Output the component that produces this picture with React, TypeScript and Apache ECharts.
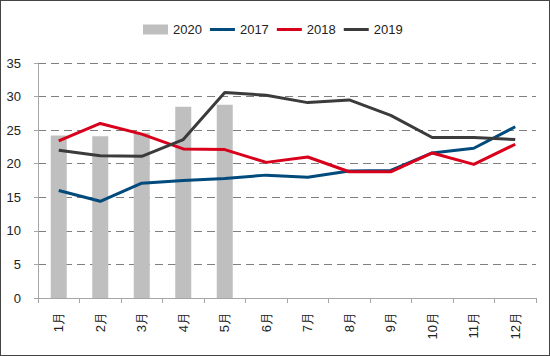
import React, { useEffect, useRef } from "react";
import * as echarts from "echarts";

const categories = ["1月", "2月", "3月", "4月", "5月", "6月", "7月", "8月", "9月", "10月", "11月", "12月"];
const s2020 = [24.2, 24.1, 24.6, 28.5, 28.8, null, null, null, null, null, null, null];
const s2017 = [16.0, 14.4, 17.1, 17.5, 17.8, 18.3, 18.0, 18.9, 19.0, 21.6, 22.3, 25.5];
const s2018 = [23.4, 26.0, 24.4, 22.2, 22.1, 20.2, 21.0, 18.8, 18.8, 21.6, 19.9, 22.9];
const s2019 = [22.0, 21.2, 21.1, 23.6, 30.6, 30.2, 29.1, 29.5, 27.2, 23.9, 23.9, 23.6];

const lineIcon = "path://M0,0 L25,0 L25,3 L0,3 Z";

export default function App() {
  const ref = useRef<HTMLDivElement>(null);
  useEffect(() => {
    if (!ref.current) return;
    const chart = echarts.init(ref.current, null, { renderer: "svg" });
    const font = "'Liberation Sans Narrow', 'Liberation Sans', Arial, sans-serif";
    chart.setOption({
      animation: false,
      backgroundColor: "#ffffff",
      textStyle: { fontFamily: font },
      legend: {
        top: 17,
        left: 137,
        itemWidth: 25,
        itemHeight: 10,
        itemGap: 8,
        symbolKeepAspect: true,
        textStyle: { fontSize: 13, color: "#222", fontFamily: font },
        data: [
          { name: "2020", icon: "rect", itemStyle: { color: "#bfbfbf" } },
          { name: "2017", icon: lineIcon },
          { name: "2018", icon: lineIcon },
          { name: "2019", icon: lineIcon },
        ],
      },
      grid: { left: 37, right: 13, top: 62, bottom: 57, containLabel: false },
      xAxis: {
        type: "category",
        data: categories,
        boundaryGap: true,
        axisLine: { lineStyle: { color: "#a6a6a6", width: 1 } },
        axisTick: { show: true, length: 5, lineStyle: { color: "#a6a6a6" } },
        axisLabel: { rotate: 90, fontSize: 13, color: "#222", margin: 14, fontFamily: font },
      },
      yAxis: {
        type: "value",
        min: 0,
        max: 35,
        interval: 5,
        axisLine: { show: true, lineStyle: { color: "#a6a6a6", width: 1 } },
        axisTick: { show: true, length: 4, lineStyle: { color: "#a6a6a6" } },
        axisLabel: { fontSize: 13, color: "#222", margin: 17, fontFamily: font },
        splitLine: { lineStyle: { type: [8, 5], color: "#7f7f7f", width: 1.2 } },
      },
      series: [
        {
          name: "2020",
          type: "bar",
          data: s2020,
          barWidth: 16,
          itemStyle: { color: "#bfbfbf" },
        },
        {
          name: "2017",
          type: "line",
          data: s2017,
          symbol: "none",
          lineStyle: { width: 3, color: "#004a7c" },
          itemStyle: { color: "#004a7c" },
        },
        {
          name: "2018",
          type: "line",
          data: s2018,
          symbol: "none",
          lineStyle: { width: 3, color: "#d9001b" },
          itemStyle: { color: "#d9001b" },
        },
        {
          name: "2019",
          type: "line",
          data: s2019,
          symbol: "none",
          lineStyle: { width: 3, color: "#3b3b3b" },
          itemStyle: { color: "#3b3b3b" },
        },
      ],
    });
    return () => chart.dispose();
  }, []);
  return (
    <div
      style={{
        position: "fixed",
        left: 0,
        top: 0,
        width: 550,
        height: 356,
        boxSizing: "border-box",
        border: "1px solid #444",
        background: "#fff",
      }}
    >
      <div ref={ref} style={{ width: 548, height: 354 }} />
    </div>
  );
}
